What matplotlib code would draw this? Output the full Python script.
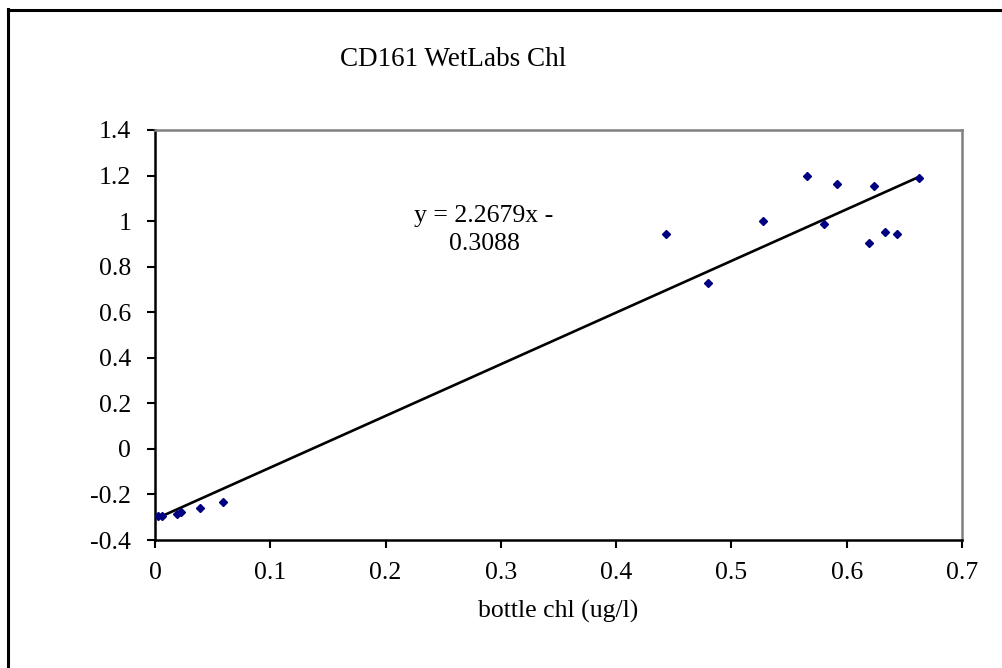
import matplotlib
matplotlib.use("Agg")
import matplotlib.pyplot as plt
import numpy as np

# bottle chl (ug/l) vs WetLabs chl
bottle_chl = [0.003, 0.006, 0.019, 0.023, 0.039, 0.059,
              0.443, 0.480, 0.527, 0.566, 0.580, 0.592,
              0.619, 0.624, 0.633, 0.644, 0.663]
wetlabs_chl = [-0.295, -0.293, -0.285, -0.275, -0.258, -0.232,
               0.942, 0.730, 1.000, 1.200, 0.987, 1.163,
               0.905, 1.153, 0.953, 0.942, 1.188]

slope = 2.2679
intercept = -0.3088

x_ticks = [0, 0.1, 0.2, 0.3, 0.4, 0.5, 0.6, 0.7]
x_tick_labels = ["0", "0.1", "0.2", "0.3", "0.4", "0.5", "0.6", "0.7"]
y_ticks = [-0.4, -0.2, 0, 0.2, 0.4, 0.6, 0.8, 1, 1.2, 1.4]
y_tick_labels = ["-0.4", "-0.2", "0", "0.2", "0.4", "0.6", "0.8", "1", "1.2", "1.4"]

plt.rcParams["font.family"] = ["Liberation Serif", "DejaVu Serif"]

fig = plt.figure(figsize=(10.03, 6.68), dpi=100)
ax = fig.add_axes([0.1545, 0.1916, 0.8046, 0.6138])

ax.plot(bottle_chl, wetlabs_chl, linestyle="none", marker="D",
        markersize=4.5, color="#000080", zorder=3)

xs = np.array([min(bottle_chl), max(bottle_chl)])
ax.plot(xs, slope * xs + intercept, color="black", linewidth=1.9, zorder=2)

ax.text(0.2855, 0.962, f"y = {slope}x -\n{abs(intercept)}", ha="center",
        va="center", fontsize=18.5, linespacing=1.35)

ax.set_xlim(0, 0.7)
ax.set_ylim(-0.4, 1.4)
ax.set_xticks(x_ticks)
ax.set_xticklabels(x_tick_labels)
ax.set_yticks(y_ticks)
ax.set_yticklabels(y_tick_labels)
ax.tick_params(direction="out", length=6, width=1.5, labelsize=18.5, color="black")
ax.tick_params(axis="x", pad=10)
ax.tick_params(axis="y", pad=11)

for side in ["left", "bottom"]:
    ax.spines[side].set_color("black")
    ax.spines[side].set_linewidth(1.8)
for side in ["top", "right"]:
    ax.spines[side].set_color("#808080")
    ax.spines[side].set_linewidth(1.8)

ax.set_xlabel("bottle chl (ug/l)", fontsize=18.5, labelpad=11)

fig.text(453.5 / 1003, 1 - 60 / 668, "CD161 WetLabs Chl", ha="center",
         va="center", fontsize=19.5)

# outer chart border (only left and top fall inside the image)
fig.add_artist(plt.Line2D([8.5 / 1003, 8.5 / 1003], [0, 1 - 8.5 / 668],
                          color="black", linewidth=2.2, transform=fig.transFigure))
fig.add_artist(plt.Line2D([8.5 / 1003, 1], [1 - 9.5 / 668, 1 - 9.5 / 668],
                          color="black", linewidth=2.2, transform=fig.transFigure))

fig.savefig("out.png", dpi=100)
